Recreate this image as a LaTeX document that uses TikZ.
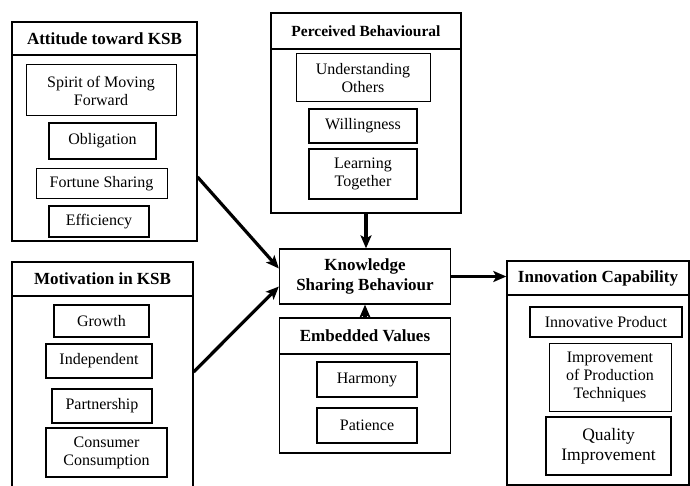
\documentclass[tikz,border=0pt]{standalone}
\usepackage{fontspec}
\setmainfont{Liberation Serif}
\usetikzlibrary{arrows.meta,calc}
\tikzset{
  box/.style={draw, line width=#1, inner sep=0pt, align=center, anchor=center,
    font=\fontsize{16}{18}\selectfont},
  box/.default=1.6pt,
  thinbox/.style={box=1pt},
  outerbox/.style={draw, line width=1.1pt, inner sep=0pt},
  headbox/.style={draw, line width=1.4pt, inner sep=0pt, align=center,
    font=\bfseries\fontsize{17}{20}\selectfont},
  arr/.style={line width=3.2pt, -{Stealth[length=13pt,width=11pt,inset=3pt]}}
}
\begin{document}
\begin{tikzpicture}[x=1pt,y=-1pt]
\useasboundingbox (0,0) rectangle (690,486);
\clip (0,0) rectangle (690,486);
% Attitude toward KSB
\node[outerbox, minimum width=185pt, minimum height=219pt] (att) at (104.5,131.5) {};
\node[headbox, minimum width=185pt, minimum height=33pt] (atth) at (104.5,38.5) {Attitude toward KSB};
\node[thinbox, minimum width=150pt, minimum height=51pt] (spirit) at (101,90.5) {Spirit of Moving\\Forward};
\node[box, minimum width=107pt, minimum height=36pt] (oblig) at (102.5,141) {Obligation};
\node[thinbox, minimum width=131pt, minimum height=30pt] (fortune) at (101.5,184) {Fortune Sharing};
\node[box, minimum width=100pt, minimum height=31pt] (effic) at (99,221.5) {Efficiency};
% Motivation in KSB
\node[outerbox, minimum width=181pt, minimum height=240pt] (mot) at (102.5,382) {};
\node[headbox, minimum width=181pt, minimum height=34pt] (moth) at (102.5,279) {Motivation in KSB};
\node[box, minimum width=95pt, minimum height=32pt] (growth) at (101.5,321) {Growth};
\node[box, minimum width=106pt, minimum height=34pt] (indep) at (99,361) {Independent};
\node[box, minimum width=100pt, minimum height=34pt] (partner) at (102,406) {Partnership};
\node[box, minimum width=121pt, minimum height=49pt] (consumer) at (106.5,452.5) {Consumer\\Consumption};
% Perceived Behavioural
\node[outerbox, minimum width=190pt, minimum height=200pt] (perc) at (366,113) {};
\node[headbox, minimum width=190pt, minimum height=36pt, font=\bfseries\fontsize{15.5}{18}\selectfont] (perch) at (366,31) {Perceived Behavioural};
\node[thinbox, minimum width=134pt, minimum height=48pt] (underst) at (363,78) {Understanding\\Others};
\node[box, minimum width=108pt, minimum height=34pt] (willing) at (363,126) {Willingness};
\node[box, minimum width=108pt, minimum height=50pt] (learning) at (363,174) {Learning\\Together};
% Knowledge Sharing Behaviour
\node[outerbox, line width=1.3pt, minimum width=171pt, minimum height=55pt, align=center,
  font=\bfseries\fontsize{17}{20}\selectfont] (ksb) at (365,276.5) {Knowledge\\Sharing Behaviour};
% Embedded Values
\node[outerbox, minimum width=171pt, minimum height=135pt] (emb) at (365,385.5) {};
\node[headbox, minimum width=171pt, minimum height=36pt] (embh) at (365,336) {Embedded Values};
\node[box, minimum width=100pt, minimum height=35pt] (harmony) at (367,379.5) {Harmony};
\node[box, minimum width=100pt, minimum height=35pt] (patience) at (367,425.5) {Patience};
% Innovation Capability
\node[outerbox, minimum width=182pt, minimum height=224pt] (inno) at (598,373) {};
\node[headbox, minimum width=182pt, minimum height=34pt] (innoh) at (598,278) {Innovation Capability};
\node[box, minimum width=152pt, minimum height=30pt] (product) at (606,322) {Innovative Product};
\node[thinbox, minimum width=122pt, minimum height=68pt] (improve) at (610,377) {Improvement\\of Production\\Techniques};
\node[box, minimum width=125pt, minimum height=58pt, font=\fontsize{17.5}{20}\selectfont] (quality) at (608.5,446) {Quality\\Improvement};
% connectors
\coordinate (s1) at ($(att.east)+(0,45.5)$);
\coordinate (s2) at ($(mot.east)+(0,-10)$);
\draw[arr] (s1) -- ($(ksb.west)+(0,-8)$);
\draw[arr] (s2) -- ($(ksb.west)+(0,10)$);
\draw[arr] (perc.south) -- (perc.south |- ksb.north);
\draw[arr] (embh.north) -- (embh.north |- ksb.south);
\draw[arr] (ksb.east) -- (ksb.east -| innoh.west);
\end{tikzpicture}
\end{document}
